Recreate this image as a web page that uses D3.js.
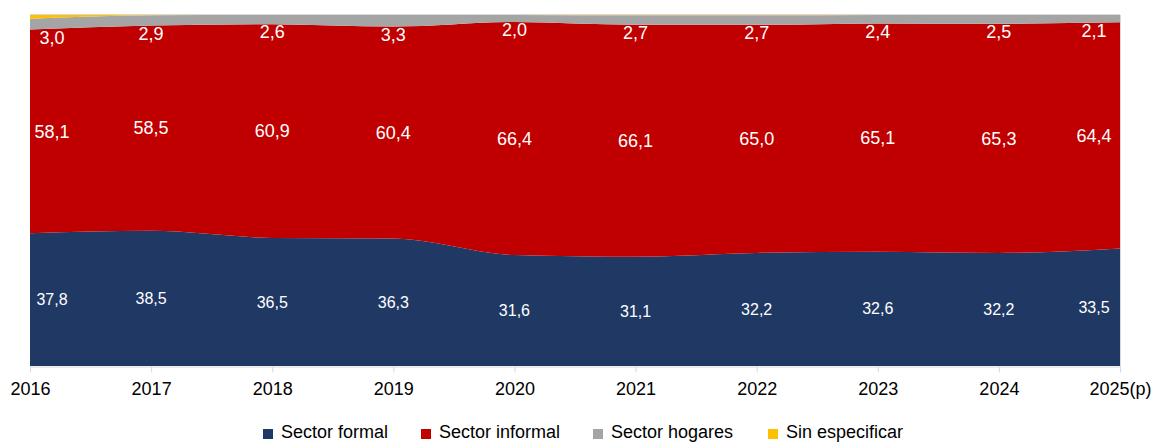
<!DOCTYPE html>
<html><head><meta charset="utf-8">
<script src="https://cdn.jsdelivr.net/npm/d3@7"></script>
<style>body{margin:0;background:#fff}svg{display:block;font-family:"Liberation Sans",Arial,sans-serif}</style>
</head><body><svg id="c" width="1155" height="442"></svg>
<script>
const years = ["2016","2017","2018","2019","2020","2021","2022","2023","2024","2025(p)"];
const formal = [37.8,38.5,36.5,36.3,31.6,31.1,32.2,32.6,32.2,33.5];
const informal = [58.1,58.5,60.9,60.4,66.4,66.1,65.0,65.1,65.3,64.4];
const hogares = [3.0,2.9,2.6,3.3,2.0,2.7,2.7,2.4,2.5,2.1];
const sinEsp = [1.1,0.1,0,0,0,0.1,0.1,0,0,0];
const seriesNames = ["Sector formal","Sector informal","Sector hogares","Sin especificar"];
const colors = ["#203864","#C00000","#A5A5A5","#FFC000"];

const svg = d3.select("#c");
const m = {l:30, r:35, t:15, b:76};
const W = 1155, H = 442;
const x = d3.scalePoint().domain(years).range([m.l, W-m.r]);
const y = d3.scaleLinear().domain([0,1]).range([H-m.b, m.t]);

const rows = years.map((yr,i)=>({year:yr, "Sector formal":formal[i], "Sector informal":informal[i], "Sector hogares":hogares[i], "Sin especificar":sinEsp[i]}));
const stack = d3.stack().keys(seriesNames).offset(d3.stackOffsetExpand);
const layers = stack(rows);

const area = d3.area().x(d=>x(d.data.year)).y0(d=>y(d[0])).y1(d=>y(d[1])).curve(d3.curveMonotoneX);
svg.append("g").selectAll("path").data(layers).join("path")
  .attr("d", area).attr("fill",(d,i)=>colors[i]);

// plot border top/right
svg.append("line").attr("x1",m.l).attr("x2",W-m.r).attr("y1",m.t-0.5).attr("y2",m.t-0.5).attr("stroke","#d9d9d9");
svg.append("line").attr("x1",W-m.r+0.5).attr("x2",W-m.r+0.5).attr("y1",m.t).attr("y2",H-m.b).attr("stroke","#d9d9d9");

// axis
const ax = svg.append("g").attr("transform",`translate(0,${H-m.b+0.5})`)
  .call(d3.axisBottom(x).tickSize(6).tickPadding(10).tickSizeOuter(0));
ax.select(".domain").attr("stroke","#d9d9d9");
ax.selectAll(".tick line").attr("stroke","#d9d9d9");
ax.selectAll("text").attr("font-size","18px").attr("fill","#000").attr("font-family","Liberation Sans, Arial, sans-serif");

const fmt = v => d3.format(".1f")(v).replace(".",",");
const n = years.length;
const lx = (i) => x(years[i]) + (i===0 ? 22 : i===n-1 ? -26 : 0);

const lab = svg.append("g").attr("fill","#fff").attr("text-anchor","middle");
layers[0].forEach((d,i)=>{
  lab.append("text").attr("x",lx(i)).attr("y",(y(d[0])+y(d[1]))/2).attr("dy","0.35em")
    .attr("font-size","16px").text(fmt(formal[i]));
});
layers[1].forEach((d,i)=>{
  lab.append("text").attr("x",lx(i)).attr("y",(y(d[0])+y(d[1]))/2).attr("dy","0.35em")
    .attr("font-size","18px").text(fmt(informal[i]));
});
layers[2].forEach((d,i)=>{
  lab.append("text").attr("x",lx(i)).attr("y",y(d[0])+8).attr("dy","0.35em")
    .attr("font-size","18px").text(fmt(hogares[i]));
});

// legend
const legX = [263,421,593,768];
const lg = svg.append("g");
seriesNames.forEach((s,i)=>{
  lg.append("rect").attr("x",legX[i]).attr("y",429).attr("width",10).attr("height",10).attr("fill",colors[i]);
  lg.append("text").attr("x",legX[i]+18).attr("y",438).attr("font-size","18px").attr("fill","#000").text(s);
});
</script></body></html>
